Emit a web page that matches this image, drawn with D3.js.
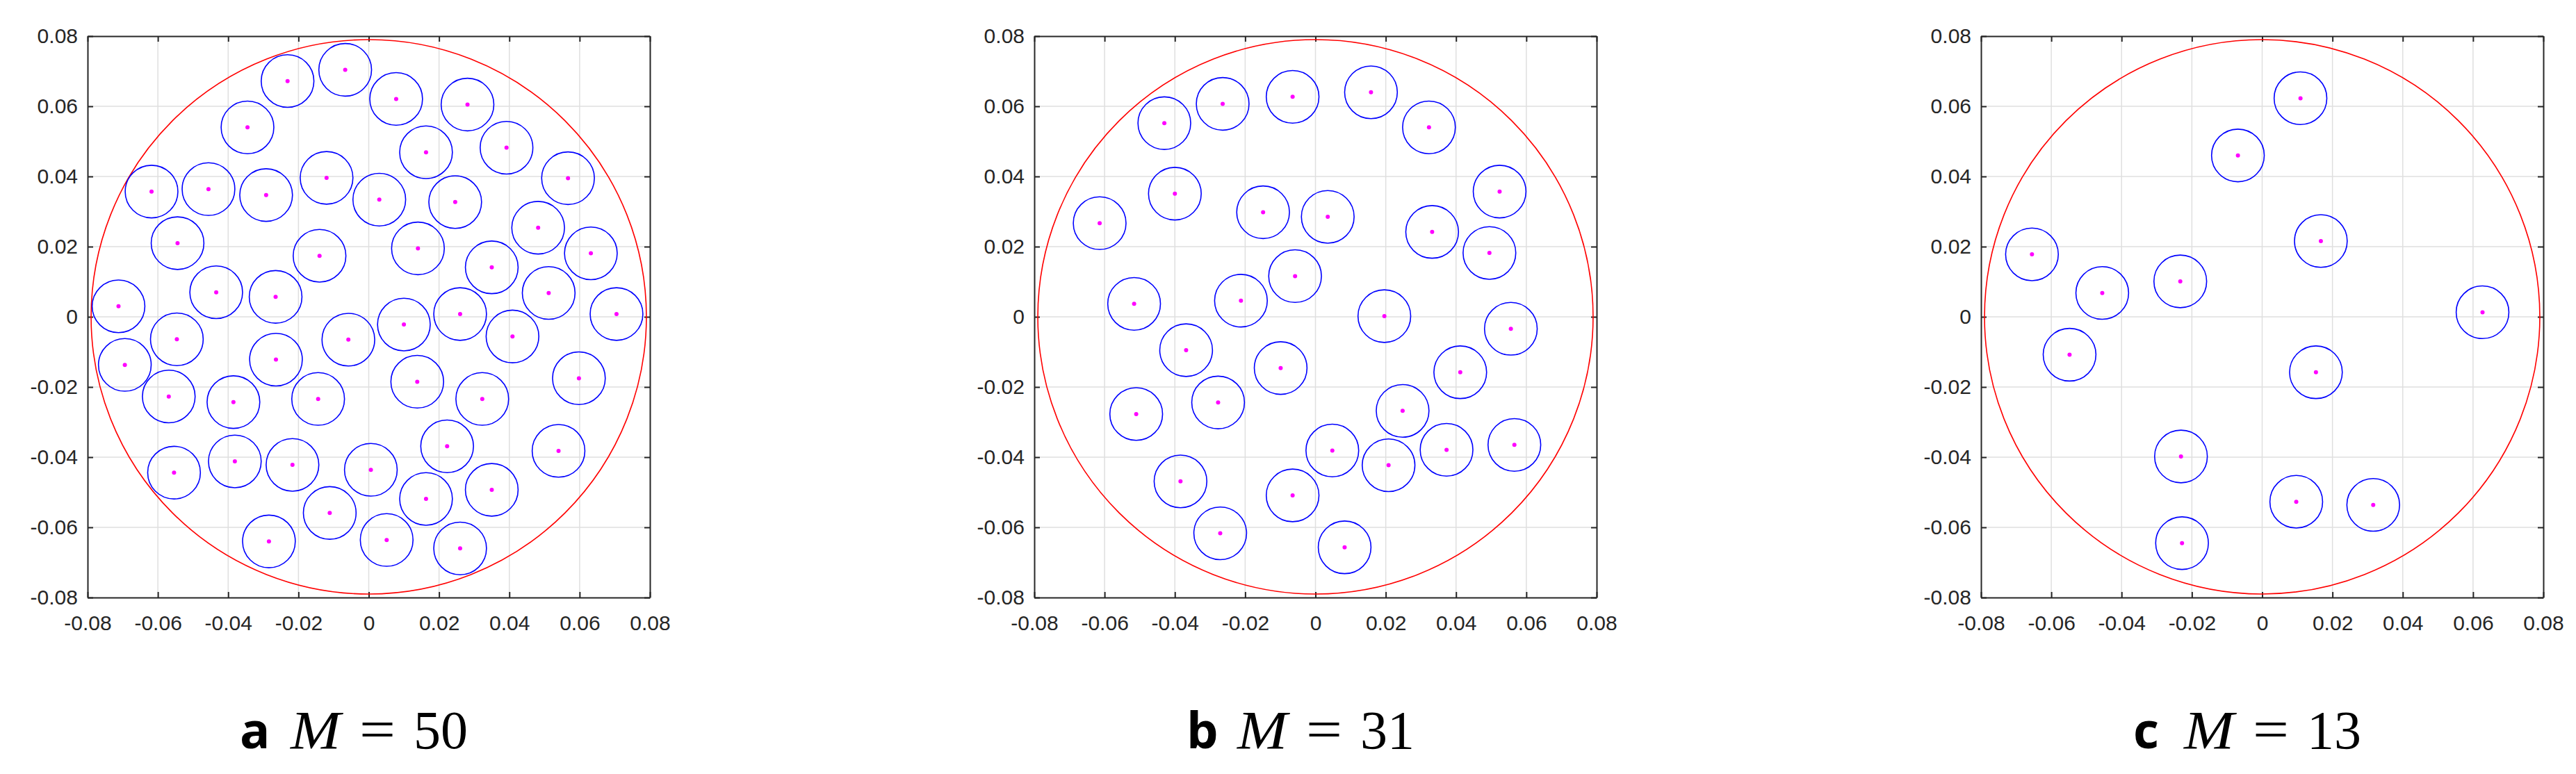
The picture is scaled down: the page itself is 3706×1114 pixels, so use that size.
<!DOCTYPE html>
<html>
<head>
<meta charset="utf-8">
<script src="https://cdn.jsdelivr.net/npm/d3@7"></script>
<style>
  html, body { margin: 0; padding: 0; background: #fff; }
  svg { display: block; }
</style>
</head>
<body>
<svg id="chart" width="3706" height="1114"></svg>
<script>
// ---------------- DATA ----------------
const tickValues = [-0.08, -0.06, -0.04, -0.02, 0, 0.02, 0.04, 0.06, 0.08];
const tickLabels = ["-0.08", "-0.06", "-0.04", "-0.02", "0", "0.02", "0.04", "0.06", "0.08"];

const panelLetters = ["a", "b", "c"];
const panelM = ["50", "31", "13"];

const regionRadius = 0.079;    // red boundary circle
const sensorRadius = 0.0075;   // blue circles

const centersA_x = [-0.0067,-0.0231,0.0078,0.0281,-0.0345,0.0163,0.0392,-0.0618,-0.0456,-0.0292,
  -0.0120,0.0030,0.0246,0.0567,0.0482,-0.0544,-0.0140,0.0140,0.0350,0.0632,
  -0.0434,-0.0265,0.0512,-0.0712,0.0260,0.0705,0.0100,-0.0546,-0.0058,0.0409,
  -0.0694,-0.0264,0.0598,0.0138,-0.0569,-0.0385,-0.0144,0.0323,0.0223,0.0540,
  -0.0554,-0.0381,-0.0217,0.0006,0.0163,0.0350,-0.0111,-0.0284,0.0051,0.0260];
const centersA_y = [0.0704,0.0672,0.0621,0.0605,0.0540,0.0469,0.0482,0.0357,0.0364,0.0347,
  0.0396,0.0334,0.0327,0.0395,0.0254,0.0210,0.0174,0.0195,0.0141,0.0181,
  0.0070,0.0057,0.0068,0.0030,0.0008,0.0008,-0.0022,-0.0064,-0.0065,-0.0056,
  -0.0137,-0.0122,-0.0175,-0.0185,-0.0227,-0.0243,-0.0234,-0.0234,-0.0369,-0.0382,
  -0.0444,-0.0412,-0.0422,-0.0436,-0.0519,-0.0493,-0.0559,-0.0640,-0.0636,-0.0660];

const centersB_x = [-0.0430,-0.0264,-0.0065,0.0158,0.0323,-0.0400,-0.0149,0.0035,-0.0614,0.0524,
  0.0332,0.0495,-0.0058,-0.0516,-0.0212,0.0196,0.0556,-0.0368,-0.0099,0.0412,
  -0.0510,-0.0277,0.0248,0.0048,0.0208,0.0373,0.0566,-0.0384,-0.0065,-0.0271,0.0083];
const centersB_y = [0.0552,0.0607,0.0627,0.0640,0.0540,0.0351,0.0298,0.0285,0.0267,0.0357,
  0.0242,0.0182,0.0116,0.0037,0.0046,0.0002,-0.0034,-0.0095,-0.0146,-0.0158,
  -0.0277,-0.0244,-0.0268,-0.0381,-0.0423,-0.0379,-0.0365,-0.0469,-0.0509,-0.0617,-0.0657];

const centersC_x = [0.0109,-0.0069,0.0167,-0.0655,-0.0455,-0.0233,0.0627,-0.0548,0.0153,-0.0231,0.0097,0.0316,-0.0228];
const centersC_y = [0.0623,0.0460,0.0216,0.0178,0.0068,0.0101,0.0013,-0.0108,-0.0158,-0.0398,-0.0527,-0.0536,-0.0645];

const panelCentersX = [centersA_x, centersB_x, centersC_x];
const panelCentersY = [centersA_y, centersB_y, centersC_y];

// ---------------- LAYOUT ----------------
const panelLeft = [126, 1488, 2850];
const plotTop = 52;
const plotW = 809, plotH = 808;
const captionStartOffset = 219;   // caption start relative to panel left
const captionBaseline = 1077;

const AXIS = "#262626";
const GRID = "#dfdfdf";
const SERIF = "'Liberation Serif', 'DejaVu Serif', serif";

const svg = d3.select("#chart");

panelLetters.forEach((letter, p) => {
  const g = svg.append("g").attr("transform", `translate(${panelLeft[p]},${plotTop})`);
  const x = d3.scaleLinear().domain([-0.08, 0.08]).range([0, plotW]);
  const y = d3.scaleLinear().domain([-0.08, 0.08]).range([plotH, 0]);

  // grid
  g.append("g").selectAll("line").data(tickValues.slice(1, -1)).join("line")
    .attr("x1", d => x(d)).attr("x2", d => x(d)).attr("y1", 0).attr("y2", plotH)
    .attr("stroke", GRID).attr("stroke-width", 1.5);
  g.append("g").selectAll("line").data(tickValues.slice(1, -1)).join("line")
    .attr("y1", d => y(d)).attr("y2", d => y(d)).attr("x1", 0).attr("x2", plotW)
    .attr("stroke", GRID).attr("stroke-width", 1.5);

  // axes (inward ticks, mirrored)
  const fmt = (d) => tickLabels[tickValues.indexOf(d)];
  const styleAxis = sel => {
    sel.select(".domain").attr("stroke", AXIS).attr("stroke-width", 2);
    sel.selectAll(".tick line").attr("stroke", AXIS).attr("stroke-width", 2);
    sel.selectAll(".tick text").attr("fill", AXIS)
      .style("font-family", "'Liberation Sans', Arial, Helvetica, sans-serif")
      .style("font-size", "30px");
  };
  const bottom = g.append("g").attr("transform", `translate(0,${plotH})`)
    .call(d3.axisBottom(x).tickValues(tickValues).tickFormat(fmt).tickSizeInner(-8).tickSizeOuter(0).tickPadding(26));
  styleAxis(bottom);
  const left = g.append("g")
    .call(d3.axisLeft(y).tickValues(tickValues).tickFormat(fmt).tickSizeInner(-8).tickSizeOuter(0).tickPadding(14));
  styleAxis(left);
  const top = g.append("g")
    .call(d3.axisTop(x).tickValues(tickValues).tickFormat("").tickSizeInner(-8).tickSizeOuter(0));
  styleAxis(top);
  const right = g.append("g").attr("transform", `translate(${plotW},0)`)
    .call(d3.axisRight(y).tickValues(tickValues).tickFormat("").tickSizeInner(-8).tickSizeOuter(0));
  styleAxis(right);

  // red boundary circle
  g.append("ellipse")
    .attr("cx", x(0)).attr("cy", y(0))
    .attr("rx", x(regionRadius) - x(0)).attr("ry", y(0) - y(regionRadius))
    .attr("fill", "none").attr("stroke", "#ff0000").attr("stroke-width", 1.6);

  const pts = panelCentersX[p].map((cx, i) => ({ x: cx, y: panelCentersY[p][i] }));

  g.append("g").selectAll("ellipse").data(pts).join("ellipse")
    .attr("cx", d => x(d.x)).attr("cy", d => y(d.y))
    .attr("rx", x(sensorRadius) - x(0)).attr("ry", y(0) - y(sensorRadius))
    .attr("fill", "none").attr("stroke", "#0000ff").attr("stroke-width", 1.6);

  g.append("g").selectAll("circle").data(pts).join("circle")
    .attr("cx", d => x(d.x)).attr("cy", d => y(d.y))
    .attr("r", 3).attr("fill", "#ff00ff");

  // caption
  const x0 = panelLeft[p] + captionStartOffset;
  const cap = svg.append("g").attr("fill", "#000");
  cap.append("text").attr("x", x0).attr("y", captionBaseline).text(letter)
    .style("font-family", "'Open Sans', 'Liberation Sans', sans-serif")
    .style("font-weight", "bold").style("font-size", "72px");
  cap.append("text").attr("x", x0 + 73).attr("y", captionBaseline).text("M")
    .attr("textLength", 72).attr("lengthAdjust", "spacingAndGlyphs")
    .style("font-family", SERIF).style("font-style", "italic").style("font-size", "78px");
  cap.append("text").attr("x", x0 + 172).attr("y", captionBaseline - 1).text("=")
    .attr("textLength", 52).attr("lengthAdjust", "spacingAndGlyphs")
    .style("font-family", SERIF).style("font-size", "78px");
  cap.append("text").attr("x", x0 + 250).attr("y", captionBaseline).text(panelM[p])
    .style("font-family", SERIF).style("font-size", "78px");
});
</script>
</body>
</html>
